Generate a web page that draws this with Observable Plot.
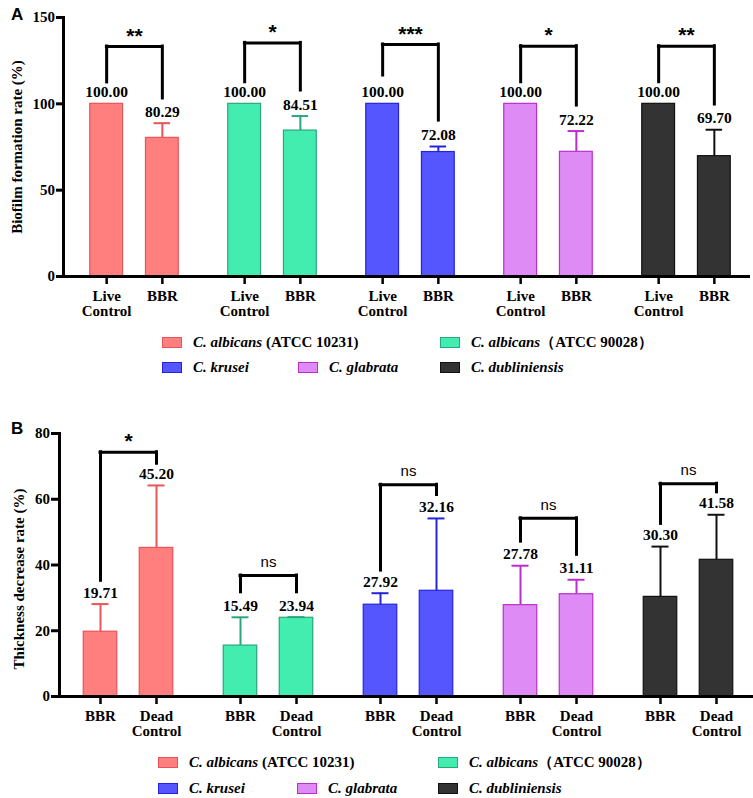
<!DOCTYPE html>
<html><head><meta charset="utf-8">
<script src="https://cdn.jsdelivr.net/npm/d3@7"></script>
<script src="https://cdn.jsdelivr.net/npm/@observablehq/plot@0.6"></script>
<style>
body{margin:0;background:#fff;width:753px;height:798px;position:relative;overflow:hidden;font-family:"Liberation Serif","Times New Roman",serif;}
.panel{position:absolute;left:0;}
.tag{position:absolute;font-family:"Liberation Sans",Arial,sans-serif;font-weight:bold;font-size:17px;line-height:1;}
.leg{position:absolute;display:flex;align-items:center;height:20px;font-weight:bold;font-size:15px;white-space:pre;color:#000;}
.sw{width:18px;height:9px;margin-right:11px;border:1px solid;flex:none;}
</style></head><body>
<div id="a" class="panel" style="top:0"></div>
<div id="b" class="panel" style="top:395px"></div>
<div class="tag" style="left:11px;top:6px">A</div>
<div class="tag" style="left:11px;top:420px">B</div>
<div id="legA"></div>
<div id="legB"></div>
<script>
// ---- data ----
const species = ["C. albicans (ATCC 10231)", "C. albicans (ATCC 90028)", "C. krusei", "C. glabrata", "C. dubliniensis"];
const speciesItalic = ["C. albicans", "C. albicans", "C. krusei", "C. glabrata", "C. dubliniensis"];
const speciesRest = [" (ATCC 10231)", "（ATCC 90028）", "", "", ""];
const fills = ["#FF7F7F", "#42EDAF", "#5656FF", "#DE8BF5", "#333333"];
const strokes = ["#E85458", "#2AA57E", "#2424DD", "#BB2ECC", "#111111"];

// Panel A: biofilm formation rate (%)
const condA = ["Live\nControl", "BBR"];
const aLive = [100.00, 100.00, 100.00, 100.00, 100.00];
const aLiveSd = [0, 0, 0, 0, 0];
const aBBR = [80.29, 84.51, 72.08, 72.22, 69.70];
const aBBRSd = [8.5, 8.4, 3.2, 12.0, 15.3];
const aBracketTop = [133.2, 135.3, 134.4, 133.4, 133.4];
const aBracketLeft = [112.4, 112.5, 116.4, 112.5, 112.5];
const aBracketRight = [103.1, 107.7, 90.3, 99.0, 99.6];
const aSig = ["**", "*", "***", "*", "**"];
const aTicks = [0, 50, 100, 150];

// Panel B: thickness decrease rate (%)
const condB = ["BBR", "Dead\nControl"];
const bBBR = [19.71, 15.49, 27.92, 27.78, 30.30];
const bBBRSd = [8.4, 8.6, 3.5, 12.0, 15.3];
const bDead = [45.20, 23.94, 32.16, 31.11, 41.58];
const bDeadSd = [19.0, 0.2, 22.0, 4.4, 13.7];
const bBracketTop = [74.3, 36.8, 64.4, 54.2, 64.7];
const bBracketLeft = [35.2, 31.7, 38.3, 47.1, 52.5];
const bBracketRight = [70.8, 31.7, 61.3, 43.1, 62.1];
const bSig = ["*", "ns", "ns", "ns", "ns"];
const bTicks = [0, 20, 40, 60, 80];

function rows(vals, sds) {
  return species.map((s, i) => ({species: s, i, value: vals[i], sd: sds[i], hi: vals[i] + sds[i]}));
}

const serif = "'Liberation Serif', 'Times New Roman', serif";
const sans = "'Liberation Sans', Arial, sans-serif";

function panel(o) {
  const r1 = rows(o.first, o.firstSd), r2 = rows(o.second, o.secondSd);
  const br = species.map((s, i) => ({species: s, top: o.top[i], left: o.left[i], right: o.right[i], sig: o.sig[i]}));
  const half = o.step / 2;
  const barInset = (o.step - o.barW) / 2;
  const capInset = (o.step - 17) / 2;
  const brInset = half - o.off;
  const marks = [];
  for (const [r, dx] of [[r1, -o.off], [r2, o.off]]) {
    marks.push(
      Plot.ruleX(r.filter(d => d.sd > 0), {x: "species", y1: "value", y2: "hi", dx, stroke: d => strokes[d.i], strokeWidth: 2}),
      Plot.barY(r, {x: "species", y: "value", dx, insetLeft: barInset, insetRight: barInset, fill: d => fills[d.i], stroke: d => strokes[d.i], strokeWidth: 1.2}),
      Plot.tickY(r.filter(d => d.sd > 0), {x: "species", y: "hi", dx, insetLeft: capInset, insetRight: capInset, stroke: d => strokes[d.i], strokeWidth: 2}),
      Plot.text(r, {x: "species", y: "hi", dx, dy: -11.5, text: d => d.value.toFixed(2), fontSize: 15.5, fontWeight: "bold", fontFamily: serif})
    );
  }
  marks.push(
    Plot.ruleX(br, {x: "species", y1: "left", y2: "top", dx: -o.off, stroke: "#000", strokeWidth: 3, strokeLinecap: "square"}),
    Plot.ruleX(br, {x: "species", y1: "right", y2: "top", dx: o.off, stroke: "#000", strokeWidth: 3, strokeLinecap: "square"}),
    Plot.tickY(br, {x: "species", y: "top", insetLeft: brInset, insetRight: brInset, stroke: "#000", strokeWidth: 3, strokeLinecap: "square"}),
    Plot.text(br.filter(d => d.sig !== "ns"), {x: "species", y: "top", dy: -10.5, text: "sig", fontFamily: sans, fontWeight: "bold", fontSize: 21}),
    Plot.text(br.filter(d => d.sig === "ns"), {x: "species", y: "top", dy: -13.5, text: "sig", fontFamily: sans, fontWeight: "normal", fontSize: 15}),
    Plot.ruleY([0], {stroke: "#000", strokeWidth: 3}),
    Plot.frame({anchor: "left", stroke: "#000", strokeWidth: 3}),
    Plot.axisY({ticks: o.ticks, tickSize: o.yTickSize, tickPadding: 1.5, strokeWidth: 3, fontSize: 15, fontWeight: "bold", fontFamily: serif, label: null, tickFormat: d => String(d)}),
    Plot.axisX({dx: -o.off, tickSize: 8, tickPadding: 5.5, strokeWidth: 2.5, fontSize: 15, fontWeight: "bold", fontFamily: serif, lineHeight: 1.0, tickFormat: () => o.cond[0], label: null}),
    Plot.axisX({dx: o.off, tickSize: 8, tickPadding: 5.5, strokeWidth: 2.5, fontSize: 15, fontWeight: "bold", fontFamily: serif, lineHeight: 1.0, tickFormat: () => o.cond[1], label: null}),
    Plot.text([o.ylabel], {frameAnchor: "left", textAnchor: "middle", lineAnchor: "middle", rotate: -90, dx: -o.labelX, dy: o.labelDy, text: d => d, fontSize: 15, fontWeight: "bold", fontFamily: serif})
  );
  return Plot.plot({
    width: 753,
    height: o.height,
    marginTop: o.marginTop,
    marginBottom: o.marginBottom,
    marginLeft: o.marginLeft,
    marginRight: o.marginRight,
    style: {fontFamily: serif, fontSize: "15px", color: "#000", background: "transparent", overflow: "visible"},
    x: {type: "band", domain: species, range: o.range, padding: 0, axis: null},
    y: {domain: o.ydomain, axis: null},
    marks
  });
}

document.getElementById("a").append(panel({
  first: aLive, firstSd: aLiveSd, second: aBBR, secondSd: aBBRSd,
  top: aBracketTop, left: aBracketLeft, right: aBracketRight, sig: aSig,
  cond: condA, ticks: aTicks, ydomain: [0, 150], ylabel: "Biofilm formation rate (%)",
  height: 322, marginTop: 17, marginBottom: 46, marginLeft: 63, marginRight: 3,
  range: [63.75, 756.25], step: 138.5, off: 27.85, barW: 33.3, yTickSize: 7,
  labelX: 46, labelDy: 0
}));

document.getElementById("b").append(panel({
  first: bBBR, firstSd: bBBRSd, second: bDead, secondSd: bDeadSd,
  top: bBracketTop, left: bBracketLeft, right: bBracketRight, sig: bSig,
  cond: condB, ticks: bTicks, ydomain: [0, 80], ylabel: "Thickness decrease rate (%)",
  height: 345, marginTop: 38, marginBottom: 44, marginLeft: 59, marginRight: 0,
  range: [58, 758], step: 140, off: 28, barW: 33.5, yTickSize: 8,
  labelX: 40, labelDy: 14
}));

// legends
function legend(id, rowsY, xs) {
  const el = document.getElementById(id);
  const layout = [[0, 0], [1, 0], [2, 1], [3, 1], [4, 1]];
  const colX = [xs[0], xs[2], xs[0], xs[1], xs[2]];
  species.forEach((s, i) => {
    const d = document.createElement("div");
    d.className = "leg";
    d.style.left = colX[i] + "px";
    d.style.top = (rowsY[layout[i][1]] - 10) + "px";
    d.innerHTML = `<span class="sw" style="background:${fills[i]};border-color:${strokes[i]}"></span><span><i>${speciesItalic[i]}</i>${speciesRest[i]}</span>`;
    el.append(d);
  });
}
legend("legA", [342, 367], [162, 298, 440]);
legend("legB", [762.5, 788], [158, 297, 438]);
</script>
</body></html>
